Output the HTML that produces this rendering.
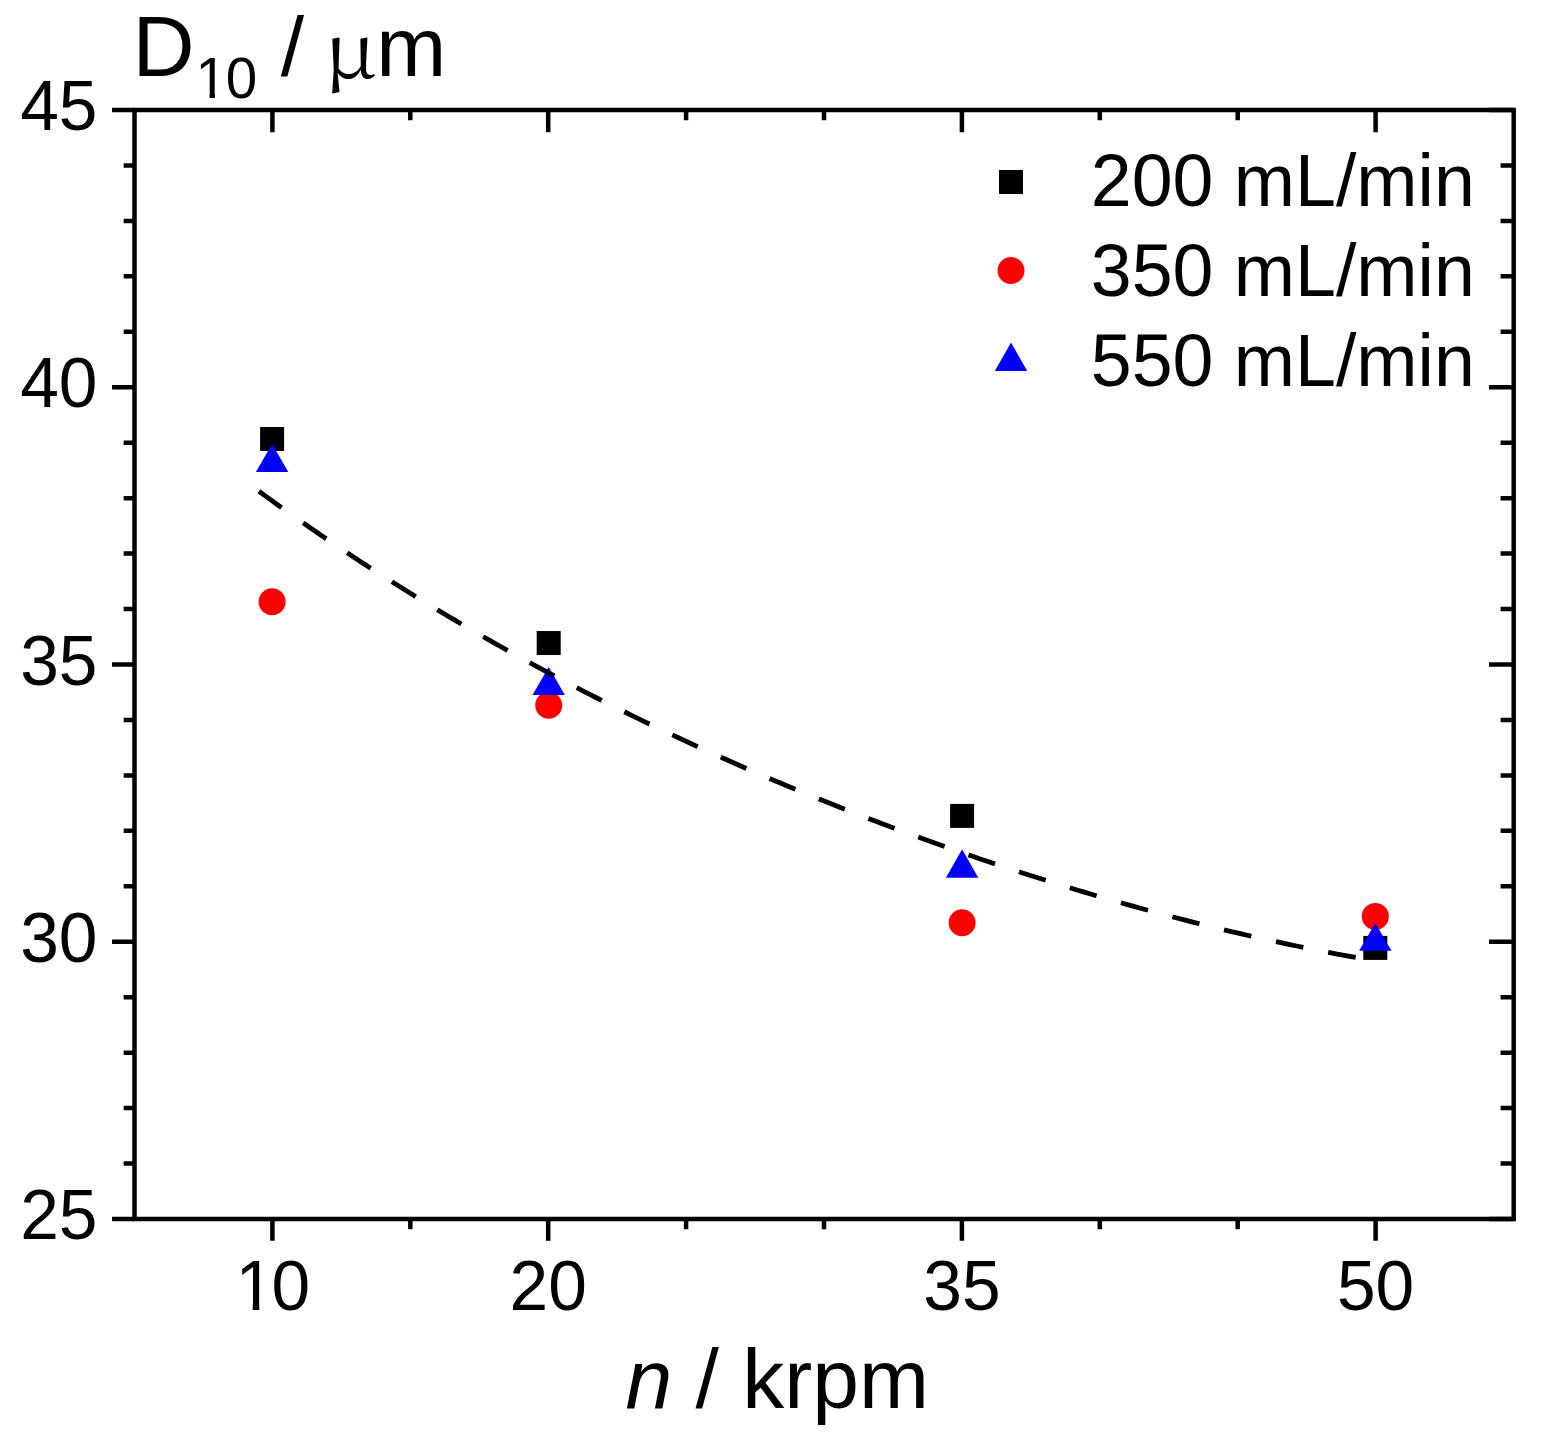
<!DOCTYPE html>
<html><head><meta charset="utf-8"><title>D10 vs n</title>
<style>
html,body{margin:0;padding:0;background:#ffffff;}
svg{display:block;}
text{font-family:"Liberation Sans",Arial,sans-serif;fill:#000;}
</style></head><body>
<svg width="1545" height="1450" viewBox="0 0 1545 1450">
<rect x="0" y="0" width="1545" height="1450" fill="#ffffff"/>
<rect x="134.5" y="110.0" width="1379.2" height="1109.0" fill="none" stroke="#000" stroke-width="4.5"/>
<path d="M134.50,1219.00h-22.45 M1513.70,1219.00h-24.70 M134.50,1163.55h-10.85 M1513.70,1163.55h-13.10 M134.50,1108.10h-10.85 M1513.70,1108.10h-13.10 M134.50,1052.65h-10.85 M1513.70,1052.65h-13.10 M134.50,997.20h-10.85 M1513.70,997.20h-13.10 M134.50,941.75h-22.45 M1513.70,941.75h-24.70 M134.50,886.30h-10.85 M1513.70,886.30h-13.10 M134.50,830.85h-10.85 M1513.70,830.85h-13.10 M134.50,775.40h-10.85 M1513.70,775.40h-13.10 M134.50,719.95h-10.85 M1513.70,719.95h-13.10 M134.50,664.50h-22.45 M1513.70,664.50h-24.70 M134.50,609.05h-10.85 M1513.70,609.05h-13.10 M134.50,553.60h-10.85 M1513.70,553.60h-13.10 M134.50,498.15h-10.85 M1513.70,498.15h-13.10 M134.50,442.70h-10.85 M1513.70,442.70h-13.10 M134.50,387.25h-22.45 M1513.70,387.25h-24.70 M134.50,331.80h-10.85 M1513.70,331.80h-13.10 M134.50,276.35h-10.85 M1513.70,276.35h-13.10 M134.50,220.90h-10.85 M1513.70,220.90h-13.10 M134.50,165.45h-10.85 M1513.70,165.45h-13.10 M134.50,110.00h-22.45 M1513.70,110.00h-24.70 M272.40,1219.00v21.85 M272.40,110.00v22.25 M410.30,1219.00v10.25 M410.30,110.00v10.25 M548.20,1219.00v21.85 M548.20,110.00v22.25 M686.10,1219.00v10.25 M686.10,110.00v10.25 M824.00,1219.00v10.25 M824.00,110.00v10.25 M961.90,1219.00v21.85 M961.90,110.00v22.25 M1099.80,1219.00v10.25 M1099.80,110.00v10.25 M1237.70,1219.00v10.25 M1237.70,110.00v10.25 M1375.60,1219.00v21.85 M1375.60,110.00v22.25" stroke="#000" stroke-width="4.5" fill="none"/>
<text x="97.5" y="1239.0" font-size="69.5" text-anchor="end">25</text>
<text x="97.5" y="961.8" font-size="69.5" text-anchor="end">30</text>
<text x="97.5" y="684.5" font-size="69.5" text-anchor="end">35</text>
<text x="97.5" y="407.2" font-size="69.5" text-anchor="end">40</text>
<text x="97.5" y="130.0" font-size="69.5" text-anchor="end">45</text>
<clipPath id="c1a" clipPathUnits="userSpaceOnUse"><rect x="200.00" y="1240.00" width="140.00" height="63.40"/><rect x="200.00" y="1311.30" width="140.00" height="28.70"/><rect x="200.00" y="1303.10" width="38.28" height="8.50"/><rect x="252.72" y="1303.10" width="6.55" height="8.50"/><rect x="272.33" y="1303.10" width="67.67" height="8.50"/></clipPath>
<text y="1309.6" font-size="69.5" clip-path="url(#c1a)"><tspan x="235.5">1</tspan><tspan x="271.6">0</tspan></text>
<text x="548.2" y="1309.6" font-size="69.5" text-anchor="middle">20</text>
<text x="961.9" y="1309.6" font-size="69.5" text-anchor="middle">35</text>
<text x="1375.6" y="1309.6" font-size="69.5" text-anchor="middle">50</text>
<rect x="260.1" y="427.0" width="24.0" height="24.0" fill="#000"/>
<rect x="536.7" y="631.0" width="24.0" height="24.0" fill="#000"/>
<rect x="950.1" y="803.9" width="24.0" height="24.0" fill="#000"/>
<rect x="1363.3" y="935.9" width="24.0" height="24.0" fill="#000"/>
<circle cx="272.1" cy="601.7" r="13.5" fill="#f00"/>
<circle cx="548.7" cy="705.3" r="13.5" fill="#f00"/>
<circle cx="962.1" cy="922.7" r="13.5" fill="#f00"/>
<circle cx="1375.3" cy="916.4" r="13.5" fill="#f00"/>
<path d="M255.9,471.9L288.3,471.9L272.1,443.9Z" fill="#00f"/>
<path d="M532.5,694.9L564.9,694.9L548.7,667.1Z" fill="#00f"/>
<path d="M945.9,877.7L978.3,877.7L962.1,849.2Z" fill="#00f"/>
<path d="M1359.1,950.8L1391.5,950.8L1375.3,923.3Z" fill="#00f"/>
<path d="M258.93,491.23 L264.54,495.33 L270.15,499.40 L275.76,503.45 L281.37,507.47 L286.98,511.47 L292.58,515.44 L298.19,519.38 L303.80,523.31 L309.41,527.20 L315.02,531.07 L320.63,534.92 L326.24,538.74 L331.84,542.54 L337.45,546.32 L343.06,550.07 L348.67,553.80 L354.28,557.50 L359.89,561.18 L365.49,564.84 L371.10,568.48 L376.71,572.09 L382.32,575.68 L387.93,579.25 L393.54,582.80 L399.14,586.33 L404.75,589.83 L410.36,593.31 L415.97,596.77 L421.58,600.22 L427.19,603.63 L432.79,607.03 L438.40,610.41 L444.01,613.77 L449.62,617.11 L455.23,620.42 L460.84,623.72 L466.44,627.00 L472.05,630.26 L477.66,633.50 L483.27,636.72 L488.88,639.92 L494.49,643.10 L500.09,646.26 L505.70,649.40 L511.31,652.53 L516.92,655.63 L522.53,658.72 L528.14,661.79 L533.74,664.84 L539.35,667.88 L544.96,670.89 L550.57,673.89 L556.18,676.87 L561.79,679.84 L567.39,682.78 L573.00,685.71 L578.61,688.63 L584.22,691.52 L589.83,694.40 L595.44,697.26 L601.05,700.11 L606.65,702.94 L612.26,705.75 L617.87,708.55 L623.48,711.33 L629.09,714.09 L634.70,716.84 L640.30,719.58 L645.91,722.29 L651.52,725.00 L657.13,727.68 L662.74,730.35 L668.35,733.01 L673.95,735.65 L679.56,738.28 L685.17,740.89 L690.78,743.48 L696.39,746.06 L702.00,748.63 L707.60,751.18 L713.21,753.72 L718.82,756.24 L724.43,758.75 L730.04,761.25 L735.65,763.73 L741.25,766.19 L746.86,768.64 L752.47,771.08 L758.08,773.51 L763.69,775.92 L769.30,778.31 L774.90,780.69 L780.51,783.06 L786.12,785.42 L791.73,787.76 L797.34,790.09 L802.95,792.40 L808.55,794.71 L814.16,796.99 L819.77,799.27 L825.38,801.53 L830.99,803.78 L836.60,806.02 L842.20,808.24 L847.81,810.45 L853.42,812.65 L859.03,814.83 L864.64,817.00 L870.25,819.16 L875.86,821.30 L881.46,823.44 L887.07,825.56 L892.68,827.66 L898.29,829.76 L903.90,831.84 L909.51,833.91 L915.11,835.97 L920.72,838.01 L926.33,840.04 L931.94,842.06 L937.55,844.07 L943.16,846.06 L948.76,848.04 L954.37,850.01 L959.98,851.97 L965.59,853.91 L971.20,855.84 L976.81,857.76 L982.41,859.67 L988.02,861.56 L993.63,863.45 L999.24,865.31 L1004.85,867.17 L1010.46,869.02 L1016.06,870.85 L1021.67,872.67 L1027.28,874.48 L1032.89,876.27 L1038.50,878.05 L1044.11,879.82 L1049.71,881.58 L1055.32,883.33 L1060.93,885.06 L1066.54,886.78 L1072.15,888.49 L1077.76,890.18 L1083.36,891.86 L1088.97,893.53 L1094.58,895.19 L1100.19,896.83 L1105.80,898.46 L1111.41,900.08 L1117.02,901.69 L1122.62,903.28 L1128.23,904.86 L1133.84,906.43 L1139.45,907.98 L1145.06,909.52 L1150.67,911.05 L1156.27,912.57 L1161.88,914.07 L1167.49,915.56 L1173.10,917.03 L1178.71,918.49 L1184.32,919.94 L1189.92,921.38 L1195.53,922.80 L1201.14,924.21 L1206.75,925.60 L1212.36,926.99 L1217.97,928.35 L1223.57,929.71 L1229.18,931.05 L1234.79,932.37 L1240.40,933.69 L1246.01,934.98 L1251.62,936.27 L1257.22,937.54 L1262.83,938.79 L1268.44,940.03 L1274.05,941.26 L1279.66,942.47 L1285.27,943.67 L1290.87,944.85 L1296.48,946.02 L1302.09,947.17 L1307.70,948.31 L1313.31,949.44 L1318.92,950.54 L1324.52,951.64 L1330.13,952.71 L1335.74,953.78 L1341.35,954.82 L1346.96,955.85 L1352.57,956.87 L1358.17,957.87 L1363.78,958.85 L1369.39,959.82 L1375.00,960.77" fill="none" stroke="#000" stroke-width="4.8" stroke-dasharray="28.0 26.38 28.0 25.28 28.0 25.28 28.0 25.28 28.0 25.28 28.0 25.28 28.0 25.28 28.0 25.28 28.0 25.28 28.0 25.28 28.0 25.28 28.0 25.28 28.0 25.28 28.0 25.28 28.0 25.28 28.0 25.28 28.0 25.28 28.0 25.28 28.0 25.28 28.0 25.28 28.0 25.28 28.0 25.28 28.0 25.28 28.0 25.28 28.0 25.28 28.0 25.28 28.0 25.28 28.0 25.28 28.0 25.28 28.0 25.28 28.0 25.28"/>
<rect x="999.0" y="170" width="24" height="24" fill="#000"/>
<circle cx="1011.0" cy="270.5" r="13.5" fill="#f00"/>
<path d="M994.8,371L1027.2,371L1011.0,342.5Z" fill="#00f"/>
<text x="1090.8" y="206.3" font-size="73.5">200 mL/min</text>
<text x="1090.8" y="295.9" font-size="73.5">350 mL/min</text>
<text x="1090.8" y="385.5" font-size="73.5">550 mL/min</text>
<clipPath id="c1b" clipPathUnits="userSpaceOnUse"><rect x="120.00" y="0.00" width="350.00" height="92.77"/><rect x="120.00" y="99.60" width="350.00" height="10.40"/><rect x="120.00" y="92.47" width="77.86" height="7.43"/><rect x="209.57" y="92.47" width="5.39" height="7.43"/><rect x="225.54" y="92.47" width="244.46" height="7.43"/></clipPath>
<text y="75.9" font-size="84" clip-path="url(#c1b)"><tspan x="132.6" font-size="86">D</tspan><tspan x="195.6" y="97.9" font-size="56.5">1</tspan><tspan x="225.8" y="97.9" font-size="56.5">0 </tspan><tspan x="280.7" y="75.9">/ </tspan><tspan x="323.9" y="77.5" font-size="75" style="font-family:'Noto Serif CJK SC','Liberation Serif',serif" textLength="52.5" lengthAdjust="spacingAndGlyphs">&#956;</tspan><tspan x="376.2" y="75.9">m</tspan></text>
<text x="625.5" y="1408" font-size="84"><tspan font-style="italic">n</tspan> / krpm</text>
</svg>
</body></html>
